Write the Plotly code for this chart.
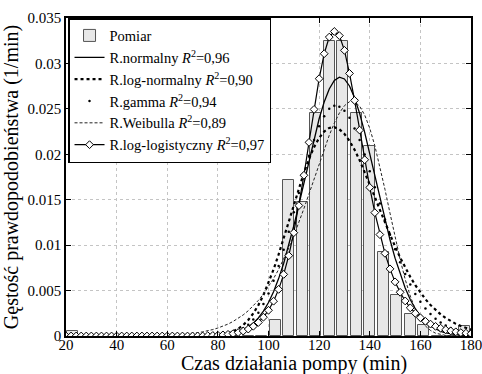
import plotly.graph_objects as go

# ---------------- data ----------------
bin_centers = [22.67, 28.0, 33.33, 38.67, 44.0, 49.33, 54.67, 60.0, 65.33, 70.67,
               76.0, 81.33, 86.67, 92.0, 97.33, 102.67, 108.0, 113.33, 118.67, 124.0,
               129.33, 134.67, 140.0, 145.33, 150.67, 156.0, 161.33, 166.67, 172.0, 177.33]
bin_width = 5.333
pomiar = [0.0006, 0, 0, 0, 0, 0, 0, 0, 0, 0,
          0, 0, 0, 0, 0, 0.0018, 0.0172, 0.0148, 0.0245, 0.0325,
          0.0325, 0.0245, 0.0209, 0.0092, 0.0045, 0.0024, 0.0012, 0, 0, 0.0011]

x_fit = list(range(20, 182, 2))

r_normalny = [0] * 26 + [0.00001, 0.00002,
    0.00003, 0.00005, 0.00007, 0.00012, 0.00019, 0.0003, 0.00045, 0.00068, 0.00099, 0.00142,
    0.00199, 0.00274, 0.00369, 0.00488, 0.00632, 0.00801, 0.00996, 0.01213, 0.01447, 0.01692,
    0.01937, 0.02174, 0.02391, 0.02576, 0.02719, 0.02812, 0.02849, 0.02829, 0.02752, 0.02623,
    0.0245, 0.02242, 0.0201, 0.01766, 0.0152, 0.01282, 0.01059, 0.00857, 0.0068, 0.00529,
    0.00402, 0.003, 0.00219, 0.00157, 0.0011, 0.00076, 0.00051, 0.00034, 0.00022, 0.00014,
    0.00009, 0.00005, 0.00003]

r_lognormalny = [0] * 26 + [0.00001, 0.00001,
    0.00003, 0.00006, 0.0001, 0.00019, 0.00031, 0.00051, 0.0008, 0.00121, 0.00176, 0.00249,
    0.0034, 0.00451, 0.00582, 0.00732, 0.00898, 0.01076, 0.01261, 0.01448, 0.01629, 0.01798,
    0.0195, 0.02078, 0.0218, 0.02251, 0.0229, 0.02298, 0.02275, 0.02224, 0.02147, 0.0205,
    0.01935, 0.01807, 0.01672, 0.01531, 0.01388, 0.01249, 0.01113, 0.00985, 0.00864, 0.00752,
    0.00651, 0.00559, 0.00477, 0.00405, 0.00341, 0.00286, 0.00238, 0.00198, 0.00163, 0.00134,
    0.00109, 0.00089, 0.00072]

r_gamma = [0] * 28 + [
    0.00002, 0.00004, 0.00007, 0.00012, 0.0002, 0.00034, 0.00054, 0.00084, 0.00125, 0.00182,
    0.00255, 0.00352, 0.00469, 0.00609, 0.00771, 0.0095, 0.01148, 0.01363, 0.01573, 0.01782,
    0.01981, 0.02158, 0.02308, 0.02418, 0.025, 0.02534, 0.02524, 0.02478, 0.02403, 0.02284,
    0.02156, 0.01998, 0.01814, 0.01637, 0.01459, 0.01282, 0.01114, 0.00954, 0.00812, 0.00682,
    0.00566, 0.00463, 0.00377, 0.00302, 0.00241, 0.0019, 0.00149, 0.00115, 0.00088, 0.00067,
    0.0005, 0.00038, 0.00028]

r_weibull = [0] * 18 + [
    0.00004, 0.00006, 0.00008, 0.0001, 0.00014, 0.00018, 0.00023, 0.00029, 0.00036, 0.00046,
    0.00057, 0.00071, 0.00088, 0.00108, 0.00131, 0.0016, 0.00193, 0.00232, 0.00278, 0.00331,
    0.00392, 0.00462, 0.00542, 0.00632, 0.00733, 0.00845, 0.00968, 0.01103, 0.01248, 0.01403,
    0.01564, 0.0173, 0.01895, 0.02056, 0.02209, 0.02343, 0.02454, 0.02535, 0.02579, 0.02578,
    0.0253, 0.02432, 0.02286, 0.02095, 0.01868, 0.01615, 0.01352, 0.01089, 0.00843, 0.00624,
    0.0044, 0.00295, 0.00186, 0.0011, 0.00061, 0.00031, 0.00015, 0.00006, 0.00002, 0,
    0, 0, 0]

r_loglogistyczny = [0] * 28 + [
    0.00004, 0.00006, 0.00008, 0.00012, 0.00018, 0.00026, 0.00038, 0.00054, 0.00076, 0.00107,
    0.00149, 0.00207, 0.00283, 0.00383, 0.00513, 0.00678, 0.00884, 0.01137, 0.01435, 0.01769,
    0.02131, 0.02494, 0.02832, 0.03107, 0.0329, 0.03352, 0.03306, 0.03144, 0.0289, 0.02593,
    0.02266, 0.0194, 0.01635, 0.01358, 0.01116, 0.0091, 0.00739, 0.00596, 0.00481, 0.00386,
    0.0031, 0.0025, 0.00201, 0.00162, 0.00131, 0.00106, 0.00086, 0.00069, 0.00056, 0.00046,
    0.00037, 0.00031, 0.00025]

legend_names = ["Pomiar",
                "R.normalny <i>R</i><sup>2</sup>=0,96",
                "R.log-normalny <i>R</i><sup>2</sup>=0,90",
                "R.gamma <i>R</i><sup>2</sup>=0,94",
                "R.Weibulla <i>R</i><sup>2</sup>=0,89",
                "R.log-logistyczny <i>R</i><sup>2</sup>=0,97"]

x_ticks = [20, 40, 60, 80, 100, 120, 140, 160, 180]
y_ticks = [0, 0.005, 0.01, 0.015, 0.02, 0.025, 0.03, 0.035]
y_tick_text = ["0", "0.005", "0.01", "0.015", "0.02", "0.025", "0.03", "0.035"]
x_title = "Czas działania pompy (min)"
y_title = "Gęstość prawdopodobieństwa (1/min)"

FONT = "Liberation Serif, Times New Roman, serif"

fig = go.Figure()
fig.add_trace(go.Bar(x=bin_centers, y=pomiar, width=bin_width * 0.82,
                     name=legend_names[0],
                     marker=dict(color="#e8e8e8", line=dict(color="#555555", width=1))))
fig.add_trace(go.Scatter(x=x_fit, y=r_normalny, mode="lines", name=legend_names[1],
                         line=dict(color="black", width=1.3)))
fig.add_trace(go.Scatter(x=x_fit, y=r_lognormalny, mode="lines", name=legend_names[2],
                         line=dict(color="black", width=2.2, dash="dot")))
fig.add_trace(go.Scatter(x=x_fit, y=r_gamma, mode="markers", name=legend_names[3],
                         marker=dict(color="black", size=2.5)))
fig.add_trace(go.Scatter(x=x_fit, y=r_weibull, mode="lines", name=legend_names[4],
                         line=dict(color="#222222", width=1, dash="3px,2px")))
fig.add_trace(go.Scatter(x=x_fit, y=r_loglogistyczny, mode="lines+markers", name=legend_names[5],
                         line=dict(color="black", width=1.2),
                         marker=dict(symbol="diamond", size=6, color="white",
                                     line=dict(color="black", width=1))))

axis_common = dict(showline=True, linecolor="black", linewidth=1.5, mirror="allticks",
                   ticks="inside", ticklen=5, tickcolor="black", tickwidth=1,
                   showgrid=True, gridcolor="#c4c4c4", griddash="dot", gridwidth=1,
                   zeroline=False, ticklabeloverflow="allow",
                   tickfont=dict(family=FONT, size=15, color="black"))

fig.update_xaxes(range=[20, 180], tickvals=x_ticks, ticklabelstandoff=-6, **axis_common)
fig.update_yaxes(range=[0, 0.035], tickvals=y_ticks, ticktext=y_tick_text, **axis_common,
                 title=dict(text=y_title, standoff=4,
                            font=dict(family=FONT, size=20, color="black")))

fig.add_annotation(text=x_title, xref="paper", yref="paper", x=0.564, y=-0.088,
                   xanchor="center", yanchor="middle", showarrow=False,
                   font=dict(family=FONT, size=20, color="black"))

fig.update_layout(width=482, height=374,
                  margin=dict(l=66, r=11, t=18, b=38, autoexpand=False),
                  plot_bgcolor="white", paper_bgcolor="white",
                  font=dict(family=FONT, color="black"),
                  bargap=0,
                  legend=dict(x=0.005, y=1.0, xanchor="left", yanchor="top",
                              bgcolor="white", bordercolor="black", borderwidth=1.5,
                              font=dict(family=FONT, size=14.5, color="black"),
                              tracegroupgap=0, itemwidth=30),
                  showlegend=True)

fig.write_html("out.html")
